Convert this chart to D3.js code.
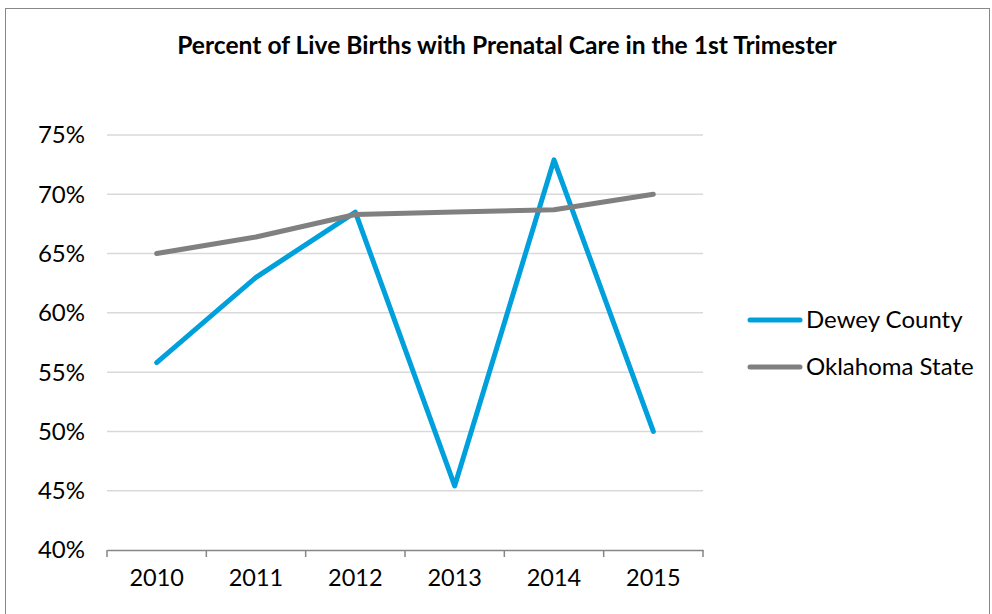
<!DOCTYPE html>
<html><head><meta charset="utf-8">
<script src="https://cdn.jsdelivr.net/npm/d3@7"></script>
<style>body{margin:0;background:#fff;}svg{display:block;}</style>
</head><body>
<svg id="c" width="992" height="614"></svg>
<script>
const years = ["2010","2011","2012","2013","2014","2015"];
const dewey = [55.8, 63.0, 68.5, 45.4, 72.9, 50.0];
const oklahoma = [65.0, 66.4, 68.3, 68.5, 68.7, 70.0];
const yTicks = [40,45,50,55,60,65,70,75];
const seriesNames = ["Dewey County","Oklahoma State"];
const colors = ["#00A0DC","#808080"];

const font = "Lato, 'Open Sans', sans-serif";
const svg = d3.select("#c");
svg.append("rect").attr("x",5.5).attr("y",8.5).attr("width",984).attr("height",620)
  .attr("fill","#fff").attr("stroke","#888").attr("stroke-width",1);

const x = d3.scaleBand().domain(years).range([107,703]);
const y = d3.scaleLinear().domain([40,75]).range([550,135]);

svg.append("text").attr("x",507).attr("y",54).attr("text-anchor","middle")
  .attr("font-family",font).attr("font-weight","bold").attr("font-size",24.6)
  .text("Percent of Live Births with Prenatal Care in the 1st Trimester");

// gridlines
svg.append("g").selectAll("line").data(yTicks.filter(d=>d>40)).join("line")
  .attr("x1",107).attr("x2",703).attr("y1",d=>y(d)).attr("y2",d=>y(d))
  .attr("stroke","#d9d9d9").attr("stroke-width",1.5);

// y labels
svg.append("g").selectAll("text").data(yTicks).join("text")
  .attr("x",85).attr("y",d=>y(d)).attr("dy","0.35em").attr("text-anchor","end")
  .attr("font-family",font).attr("font-size",24).attr("fill","#000")
  .text(d=>d+"%");

// x axis
const xAxis = svg.append("g").attr("transform","translate(0,550)")
  .call(d3.axisBottom(x).tickSize(0).tickPadding(19));
xAxis.select(".domain").attr("stroke","#868686").attr("stroke-width",1.5);
xAxis.selectAll("text").attr("font-family",font).attr("font-size",23.5).attr("fill","#000");
const bounds = years.map(d=>x(d)).concat([x.range()[1]]);
svg.append("g").selectAll("line").data(bounds).join("line")
  .attr("x1",d=>d).attr("x2",d=>d).attr("y1",550).attr("y2",557)
  .attr("stroke","#868686").attr("stroke-width",1.5);

const line = d3.line().x((d,i)=>x(years[i])+x.bandwidth()/2).y(d=>y(d));
[dewey, oklahoma].forEach((s,i)=>{
  svg.append("path").datum(s).attr("d",line).attr("fill","none")
    .attr("stroke",colors[i]).attr("stroke-width",5)
    .attr("stroke-linecap","round").attr("stroke-linejoin","round");
});

// legend
const lg = svg.append("g");
seriesNames.forEach((n,i)=>{
  const ly = 320 + i*47;
  lg.append("line").attr("x1",750).attr("x2",800).attr("y1",ly).attr("y2",ly)
    .attr("stroke",colors[i]).attr("stroke-width",5).attr("stroke-linecap","round");
  lg.append("text").attr("x",806).attr("y",ly).attr("dy","0.35em")
    .attr("font-family",font).attr("font-size",24).text(n);
});
</script>
</body></html>
